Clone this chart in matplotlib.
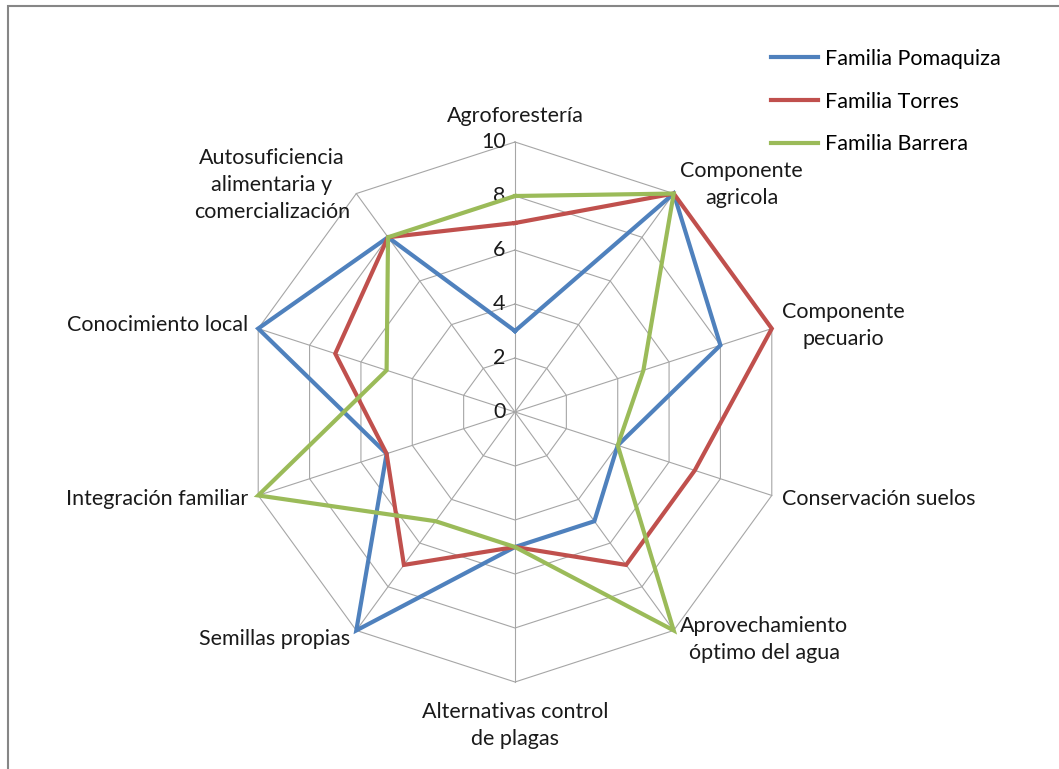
import numpy as np
import matplotlib
matplotlib.use("Agg")
import matplotlib.pyplot as plt
from matplotlib.patches import Rectangle

# Categories, clockwise from the top
categories = [
    "Agroforestería",
    "Componente\nagricola",
    "Componente\npecuario",
    "Conservación suelos",
    "Aprovechamiento\nóptimo del agua",
    "Alternativas control\nde plagas",
    "Semillas propias",
    "Integración familiar",
    "Conocimiento local",
    "Autosuficiencia\nalimentaria y\ncomercialización",
]

pomaquiza = [3, 10, 8, 4, 5, 5, 10, 5, 10, 8]
torres = [7, 10, 10, 7, 7, 5, 7, 5, 7, 8]
barrera = [8, 10, 5, 4, 10, 5, 5, 10, 5, 8]

series_names = ["Familia Pomaquiza", "Familia Torres", "Familia Barrera"]
series_colors = ["#4F81BD", "#C0504D", "#9BBB59"]

ticks = [0, 2, 4, 6, 8, 10]

plt.rcParams["font.family"] = ["Lato", "DejaVu Sans"]
FS = 15.5
TXT = "#1a1a1a"

W, H = 1059, 769
DPI = 100
cx, cy = 515, 412      # centre of the radar, in pixels
scale = 27.0           # pixels per unit

fig = plt.figure(figsize=(W / DPI, H / DPI), dpi=DPI)
ax = fig.add_axes([0, 0, 1, 1])
ax.set_xlim(-cx / scale, (W - cx) / scale)
ax.set_ylim(-(H - cy) / scale, cy / scale)
ax.axis("off")

n = len(categories)
theta = np.arange(n) * 2 * np.pi / n


def to_xy(values):
    r = np.asarray(values, dtype=float)
    x = r * np.sin(theta)
    y = r * np.cos(theta)
    return np.append(x, x[0]), np.append(y, y[0])


# polygon grid
grid_color = "#A6A6A6"
rmax = ticks[-1]
for t in ticks[1:]:
    gx, gy = to_xy([t] * n)
    ax.plot(gx, gy, color=grid_color, lw=0.8, zorder=1)
for a in theta:
    ax.plot([0, rmax * np.sin(a)], [0, rmax * np.cos(a)],
            color=grid_color, lw=0.8, zorder=1)

# tick labels along the vertical spoke
for t in ticks:
    ax.text(-0.35, t, str(t), ha="right", va="center", fontsize=FS, color=TXT)

# data series
for name, vals, col in zip(series_names, [pomaquiza, torres, barrera], series_colors):
    sx, sy = to_xy(vals)
    ax.plot(sx, sy, color=col, lw=3.0, label=name, zorder=3,
            solid_joinstyle="miter")

# category labels
for lab, a in zip(categories, theta):
    s, c = np.sin(a), np.cos(a)
    if abs(s) < 0.1:
        ha = "center"
    elif s > 0:
        ha = "left"
    else:
        ha = "right"
    if c > 0.95:
        va, r = "bottom", rmax + 0.6
    elif c < -0.95:
        va, r = "top", rmax + 0.75
    else:
        va, r = "center", rmax + 0.4
    ax.text(r * s, r * c, lab, ha=ha, va=va, multialignment="center",
            fontsize=FS, color=TXT, linespacing=1.45)

ax.legend(loc="upper left", bbox_to_anchor=(771 / W, 1 - 49 / H),
          bbox_transform=fig.transFigure, frameon=False, fontsize=FS,
          handlelength=2.2, handletextpad=0.3, labelspacing=1.05,
          borderaxespad=0, borderpad=0)

# chart area border
fig.patches.append(Rectangle((8 / W, -0.1), 1.2, 1 - 6 / H + 0.1,
                             transform=fig.transFigure, fill=False,
                             edgecolor="#868686", lw=1.5))

fig.savefig("out.png", dpi=DPI)
